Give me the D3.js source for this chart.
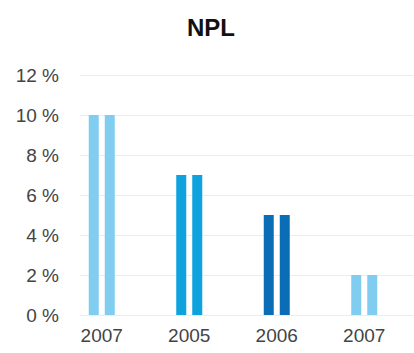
<!DOCTYPE html>
<html>
<head>
<meta charset="utf-8">
<script src="https://cdn.jsdelivr.net/npm/d3@7"></script>
<style>
	body { margin: 0; background: #fff; }
	.axis text { font-family: "Liberation Sans", Arial, sans-serif; font-size: 19px; fill: #444; }
	.axis path { display: none; }
	.y.axis line { stroke: #ececec; }
	.x.axis line { display: none; }
</style>
</head>
<body>
<div class="chart-container"></div>
<script>
// chart values
const categories = ['2007', '2005', '2006', '2007'],
	barA = [10, 7, 5, 2],
	barB = [10, 7, 5, 2],
	colors = ['#80cdf0', '#0ea3de', '#0a6db5', '#80cdf0'],
	yTicks = [0, 2, 4, 6, 8, 10, 12];

const outerW = 414,
	outerH = 353;

const margin = {
	left: 80,
	right: 0,
	top: 75,
	bottom: 38
};

const w = outerW - margin.left - margin.right,
	h = outerH - margin.top - margin.bottom;

const container = d3.select('.chart-container');

const svg = container.append('svg')
	.attr('width', outerW)
	.attr('height', outerH);

svg.append('text')
	.attr('x', 211)
	.attr('y', 36)
	.attr('text-anchor', 'middle')
	.style('font-family', '"Liberation Sans", Arial, sans-serif')
	.style('font-weight', 'bold')
	.style('font-size', '24px')
	.style('fill', '#111')
	.text('NPL');

const g = svg.append('g')
	.attr('transform', `translate(${margin.left}, ${margin.top})`);

const x = d3.scaleBand()
	.domain(d3.range(categories.length))
	.range([-22, w - 6])
	.paddingInner(0)
	.paddingOuter(0);

const y = d3.scaleLinear()
	.domain([0, 12])
	.range([h, 0]);

g.append('g')
	.attr('class', 'y axis')
	.call(d3.axisLeft(y)
		.tickValues(yTicks)
		.tickSize(-w)
		.tickSizeOuter(0)
		.tickPadding(21)
		.tickFormat(d => d + ' %')
	);

g.append('g')
	.attr('class', 'x axis')
	.attr('transform', `translate(0, ${h})`)
	.call(d3.axisBottom(x)
		.tickSize(0)
		.tickPadding(14)
		.tickFormat(i => categories[i])
	);

// paired bars
const barW = 10,
	gap = 6;

const groups = g.selectAll('.bar-group')
	.data(categories.map((c, i) => ({ i, a: barA[i], b: barB[i] })))
	.enter().append('g')
	.attr('class', 'bar-group')
	.attr('transform', d => `translate(${x(d.i) + x.bandwidth() / 2}, 0)`);

groups.append('rect')
	.attr('x', -gap / 2 - barW)
	.attr('y', d => y(d.a))
	.attr('width', barW)
	.attr('height', d => h - y(d.a))
	.attr('fill', d => colors[d.i]);

groups.append('rect')
	.attr('x', gap / 2)
	.attr('y', d => y(d.b))
	.attr('width', barW)
	.attr('height', d => h - y(d.b))
	.attr('fill', d => colors[d.i]);
</script>
</body>
</html>
